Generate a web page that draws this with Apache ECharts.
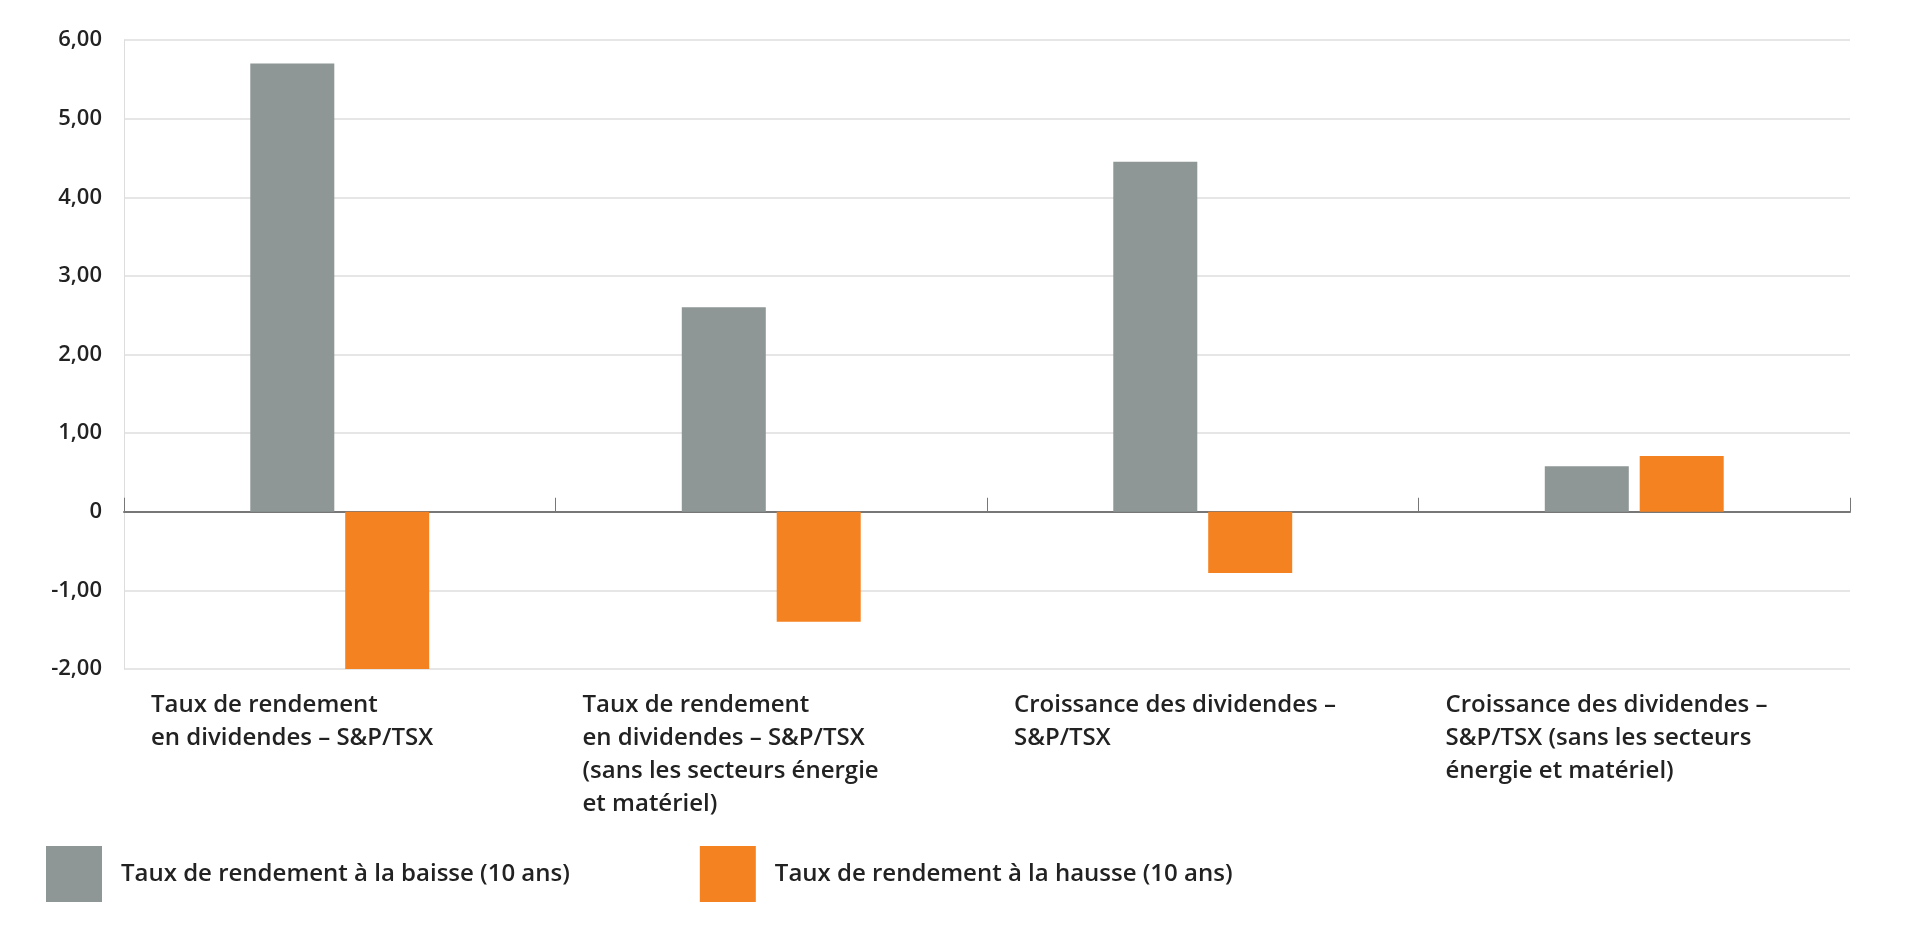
<!DOCTYPE html><html><head><meta charset="utf-8"><script src="https://cdn.jsdelivr.net/npm/echarts@6/dist/echarts.min.js"></script>
<style>html,body{margin:0;background:#fff}#c{width:1920px;height:930px}</style></head><body><div id="c"></div><script>
const categories=["Taux de rendement\nen dividendes – S&P/TSX","Taux de rendement\nen dividendes – S&P/TSX\n(sans les secteurs énergie\net matériel)","Croissance des dividendes –\nS&P/TSX","Croissance des dividendes –\nS&P/TSX (sans les secteurs\nénergie et matériel)"];
const seriesNames=["Taux de rendement à la baisse (10 ans)","Taux de rendement à la hausse (10 ans)"];
const baisse=[5.70,2.60,4.45,0.58];
const hausse=[-2.00,-1.40,-0.78,0.71];
const yTicks=[-2,-1,0,1,2,3,4,5,6];
const F='"Open Sans", Lato, sans-serif';
const fmt=v=>v===0?'0':v.toFixed(2).replace('.',',');
const ch=echarts.init(document.getElementById('c'));
ch.setOption({
 animation:false,
 grid:{left:124,right:70,top:40,bottom:261},
 legend:{left:41,top:841,itemWidth:56,itemHeight:56,itemGap:130,icon:'rect',
  textStyle:{fontFamily:F,fontSize:24,fontWeight:600,color:'#222',padding:[0,0,0,14]},data:seriesNames},
 xAxis:[{type:'category',data:categories,axisLine:{onZero:true,lineStyle:{color:'#777',width:2}},
   axisTick:{show:true,inside:true,length:14,lineStyle:{color:'#777'}},axisLabel:{show:false}},
  {type:'category',data:categories.concat(['']),boundaryGap:false,position:'bottom',
   axisLine:{show:false},axisTick:{show:false},splitLine:{show:false},
   axisLabel:{show:true,interval:0,align:'left',verticalAlign:'top',margin:20,padding:[0,0,0,27],
    fontFamily:F,fontSize:24,fontWeight:600,color:'#222',lineHeight:33}}],
 yAxis:{type:'value',min:-2,max:6,interval:1,
  axisLine:{show:true,lineStyle:{color:'#ddd'}},axisTick:{show:false},
  splitLine:{lineStyle:{color:'#e6e6e6',width:2}},
  axisLabel:{formatter:fmt,margin:22,fontFamily:F,fontSize:22,fontWeight:600,color:'#222'}},
 series:[{name:seriesNames[0],type:'bar',data:baisse,barWidth:84,barGap:'13%',itemStyle:{color:'#8e9696'}},
  {name:seriesNames[1],type:'bar',data:hausse,barWidth:84,barGap:'13%',itemStyle:{color:'#f58220'}}]
});
</script></body></html>
